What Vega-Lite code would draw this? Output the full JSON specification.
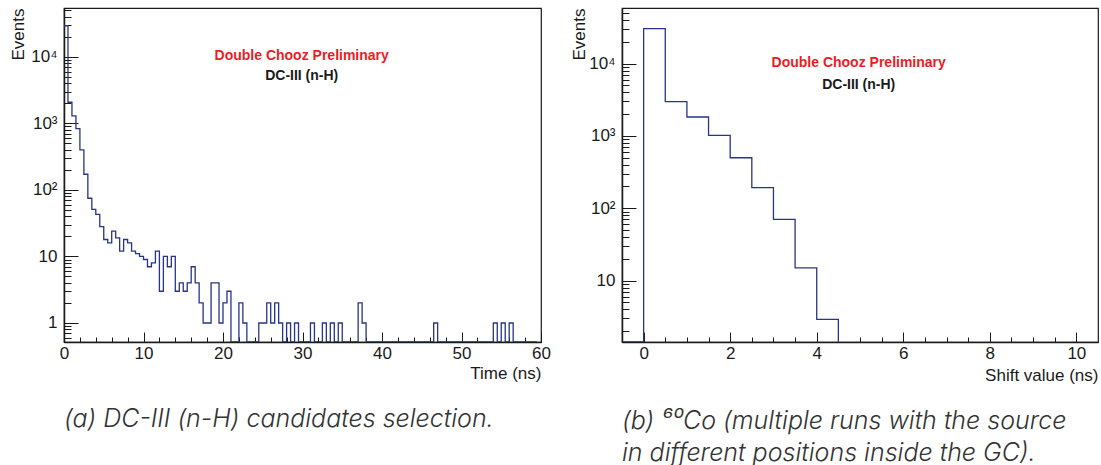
{
  "$schema": "https://vega.github.io/schema/vega-lite/v6.json",
  "background": "white",
  "padding": {"left": 8, "top": 7, "right": 0, "bottom": 0},
  "bounds": "flush",
  "spacing": 81,
  "config": {
    "font": "Liberation Sans",
    "view": {"stroke": "#1a1a1a", "strokeWidth": 1.2},
    "axis": {
      "grid": false, "domainColor": "#1a1a1a", "domainWidth": 1.5, "tickColor": "#1a1a1a", "tickWidth": 1,
      "labelColor": "#1a1a1a", "titleColor": "#1a1a1a", "labelFont": "Liberation Sans", "titleFont": "Liberation Sans",
      "labelFontSize": 17, "titleFontSize": 17, "titleFontWeight": "normal",
      "labelOverlap": false, "labelFlush": false, "zindex": 1
    }
  },
  "hconcat": [
    {
      "width": 477, "height": 334,
      "title": {"text": "(a) DC-III (n-H) candidates selection.", "orient": "bottom", "anchor": "start", "frame": "group", "offset": 26, "fontSize": 25, "fontStyle": "italic", "fontWeight": 300, "color": "#333333", "font": "Inter"},
      "resolve": {"axis": {"x": "independent", "y": "independent"}},
      "layer": [
        {
          "data": {"values": [
            {"t":0,"n":29400},{"t":0.5,"n":2080},{"t":1,"n":1300},{"t":1.5,"n":835},{"t":2,"n":400},{"t":2.5,"n":172},{"t":3,"n":75},{"t":3.5,"n":51},{"t":4,"n":43},{"t":4.5,"n":28},
            {"t":5,"n":18},{"t":5.5,"n":16},{"t":6,"n":24},{"t":6.5,"n":19},{"t":7,"n":12},{"t":7.5,"n":18},{"t":8,"n":16},{"t":8.5,"n":12},{"t":9,"n":11},{"t":9.5,"n":10},
            {"t":10,"n":9},{"t":10.5,"n":7},{"t":11,"n":8},{"t":11.5,"n":12},{"t":12,"n":3},{"t":12.5,"n":10},{"t":13,"n":7},{"t":13.5,"n":10},{"t":14,"n":3},{"t":14.5,"n":4},
            {"t":15,"n":3},{"t":15.5,"n":4},{"t":16,"n":7},{"t":16.5,"n":4},{"t":17,"n":2},{"t":17.5,"n":1},{"t":18,"n":1},{"t":18.5,"n":4},{"t":19,"n":4},{"t":19.5,"n":1},
            {"t":20,"n":2},{"t":20.5,"n":3},{"t":21,"n":0},{"t":21.5,"n":0},{"t":22,"n":2},{"t":22.5,"n":1},{"t":23,"n":0},{"t":23.5,"n":0},{"t":24,"n":0},{"t":24.5,"n":1},
            {"t":25,"n":1},{"t":25.5,"n":2},{"t":26,"n":1},{"t":26.5,"n":2},{"t":27,"n":1},{"t":27.5,"n":0},{"t":28,"n":1},{"t":28.5,"n":0},{"t":29,"n":1},{"t":29.5,"n":0},
            {"t":30,"n":0},{"t":30.5,"n":0},{"t":31,"n":1},{"t":31.5,"n":0},{"t":32,"n":0},{"t":32.5,"n":1},{"t":33,"n":0},{"t":33.5,"n":1},{"t":34,"n":0},{"t":34.5,"n":1},
            {"t":35,"n":0},{"t":35.5,"n":0},{"t":36,"n":0},{"t":36.5,"n":0},{"t":37,"n":2},{"t":37.5,"n":1},{"t":38,"n":0},{"t":38.5,"n":0},{"t":39,"n":0},{"t":39.5,"n":0},
            {"t":40,"n":0},{"t":40.5,"n":0},{"t":41,"n":0},{"t":41.5,"n":0},{"t":42,"n":0},{"t":42.5,"n":0},{"t":43,"n":0},{"t":43.5,"n":0},{"t":44,"n":0},{"t":44.5,"n":0},
            {"t":45,"n":0},{"t":45.5,"n":0},{"t":46,"n":0},{"t":46.5,"n":1},{"t":47,"n":0},{"t":47.5,"n":0},{"t":48,"n":0},{"t":48.5,"n":0},{"t":49,"n":0},{"t":49.5,"n":0},
            {"t":50,"n":0},{"t":50.5,"n":0},{"t":51,"n":0},{"t":51.5,"n":0},{"t":52,"n":0},{"t":52.5,"n":0},{"t":53,"n":0},{"t":53.5,"n":0},{"t":54,"n":1},{"t":54.5,"n":0},
            {"t":55,"n":1},{"t":55.5,"n":0},{"t":56,"n":1},{"t":56.5,"n":0},{"t":57,"n":0},{"t":57.5,"n":0},{"t":58,"n":0},{"t":58.5,"n":0},{"t":59,"n":0},{"t":59.5,"n":0}
          ]},
          "mark": {"type": "line", "interpolate": "step-after", "color": "#27348b", "strokeWidth": 1.3, "invalid": "show", "clip": true},
          "encoding": {
            "x": {"field": "t", "type": "quantitative",
              "scale": {"domain": [0, 60], "nice": false, "zero": false},
              "axis": {"orient": "bottom", "title": "Time (ns)", "values": [0,2,4,6,8,10,12,14,16,18,20,22,24,26,28,30,32,34,36,38,40,42,44,46,48,50,52,54,56,58,60],
                "labels": false, "tickSize": -5,
                "titleAnchor": "end", "titleAlign": "right", "titleBaseline": "middle", "titleX": 477, "titleY": 31}},
            "y": {"field": "n", "type": "quantitative",
              "scale": {"type": "log", "domain": [0.518, 54300], "clamp": true, "nice": false},
              "axis": {"orient": "left", "title": "Events", "values": [0.6,0.7,0.8,0.9,1,2,3,4,5,6,7,8,9,10,20,30,40,50,60,70,80,90,100,200,300,400,500,600,700,800,900,1000,2000,3000,4000,5000,6000,7000,8000,9000,10000,20000,30000,40000,50000],
                "labels": false, "tickSize": -7,
                "titleAnchor": "end", "titleAlign": "right", "titleBaseline": "middle", "titleAngle": 270, "titleX": -46, "titleY": 0}}
          }
        },
        {
          "data": {"values": [{"label": "Double Chooz Preliminary"}]},
          "mark": {"type": "text", "fontWeight": "bold", "fontSize": 14, "font": "Liberation Sans", "color": "#ed1c24"},
          "encoding": {
            "x": {"datum": 29.9, "type": "quantitative",
              "axis": {"orient": "bottom", "title": null, "domain": false, "values": [0,10,20,30,40,50,60], "tickSize": -10, "labelPadding": 13}},
            "y": {"datum": 10400, "type": "quantitative",
              "axis": {"orient": "left", "title": null, "domain": false, "values": [1,10,100,1000,10000], "tickSize": -14, "labelPadding": 21,
                "labelExpr": "datum.value === 1 ? '1' : datum.value === 10 ? '10' : datum.value === 100 ? '10²' : datum.value === 1000 ? '10³' : '10⁴'"}},
            "text": {"field": "label"}}
        },
        {
          "data": {"values": [{"label": "DC-III (n-H)"}]},
          "mark": {"type": "text", "fontWeight": "bold", "fontSize": 14, "font": "Liberation Sans", "color": "#1a1a1a"},
          "encoding": {"x": {"datum": 29.9, "type": "quantitative", "axis": null}, "y": {"datum": 5190, "type": "quantitative", "axis": null}, "text": {"field": "label"}}
        }
      ]
    },
    {
      "width": 476, "height": 334,
      "title": {"text": ["(b) ⁶⁰Co (multiple runs with the source", "in different positions inside the GC)."], "orient": "bottom", "anchor": "start", "frame": "group", "offset": 26, "lineHeight": 32, "fontSize": 25, "fontStyle": "italic", "fontWeight": 300, "color": "#333333", "font": "Inter"},
      "resolve": {"axis": {"x": "independent", "y": "independent"}},
      "layer": [
        {
          "data": {"values": [
            {"s":-0.5,"n":0},{"s":0,"n":30500},{"s":0.5,"n":2980},{"s":1,"n":1830},{"s":1.5,"n":1020},{"s":2,"n":500},{"s":2.5,"n":193},{"s":3,"n":70},{"s":3.5,"n":15},{"s":4,"n":2.9},
            {"s":4.5,"n":0}
          ]},
          "mark": {"type": "line", "interpolate": "step-after", "color": "#27348b", "strokeWidth": 1.3, "invalid": "show", "clip": true},
          "encoding": {
            "x": {"field": "s", "type": "quantitative",
              "scale": {"domain": [-0.5, 10.5], "nice": false, "zero": false},
              "axis": {"orient": "bottom", "title": "Shift value (ns)", "values": [0,0.5,1,1.5,2,2.5,3,3.5,4,4.5,5,5.5,6,6.5,7,7.5,8,8.5,9,9.5,10],
                "labels": false, "tickSize": -5,
                "titleAnchor": "end", "titleAlign": "right", "titleBaseline": "middle", "titleX": 476, "titleY": 33}},
            "y": {"field": "n", "type": "quantitative",
              "scale": {"type": "log", "domain": [1.41, 59000], "clamp": true, "nice": false},
              "axis": {"orient": "left", "title": "Events", "values": [2,3,4,5,6,7,8,9,10,20,30,40,50,60,70,80,90,100,200,300,400,500,600,700,800,900,1000,2000,3000,4000,5000,6000,7000,8000,9000,10000,20000,30000,40000,50000],
                "labels": false, "tickSize": -7,
                "titleAnchor": "end", "titleAlign": "right", "titleBaseline": "middle", "titleAngle": 270, "titleX": -43, "titleY": 0}}
          }
        },
        {
          "data": {"values": [{"label": "Double Chooz Preliminary"}]},
          "mark": {"type": "text", "fontWeight": "bold", "fontSize": 14, "font": "Liberation Sans", "color": "#ed1c24"},
          "encoding": {
            "x": {"datum": 4.97, "type": "quantitative",
              "axis": {"orient": "bottom", "title": null, "domain": false, "values": [0,2,4,6,8,10], "tickSize": -10, "labelPadding": 13}},
            "y": {"datum": 10300, "type": "quantitative",
              "axis": {"orient": "left", "title": null, "domain": false, "values": [10,100,1000,10000], "tickSize": -14, "labelPadding": 21,
                "labelExpr": "datum.value === 10 ? '10' : datum.value === 100 ? '10²' : datum.value === 1000 ? '10³' : '10⁴'"}},
            "text": {"field": "label"}}
        },
        {
          "data": {"values": [{"label": "DC-III (n-H)"}]},
          "mark": {"type": "text", "fontWeight": "bold", "fontSize": 14, "font": "Liberation Sans", "color": "#1a1a1a"},
          "encoding": {"x": {"datum": 4.97, "type": "quantitative", "axis": null}, "y": {"datum": 5130, "type": "quantitative", "axis": null}, "text": {"field": "label"}}
        }
      ]
    }
  ]
}
